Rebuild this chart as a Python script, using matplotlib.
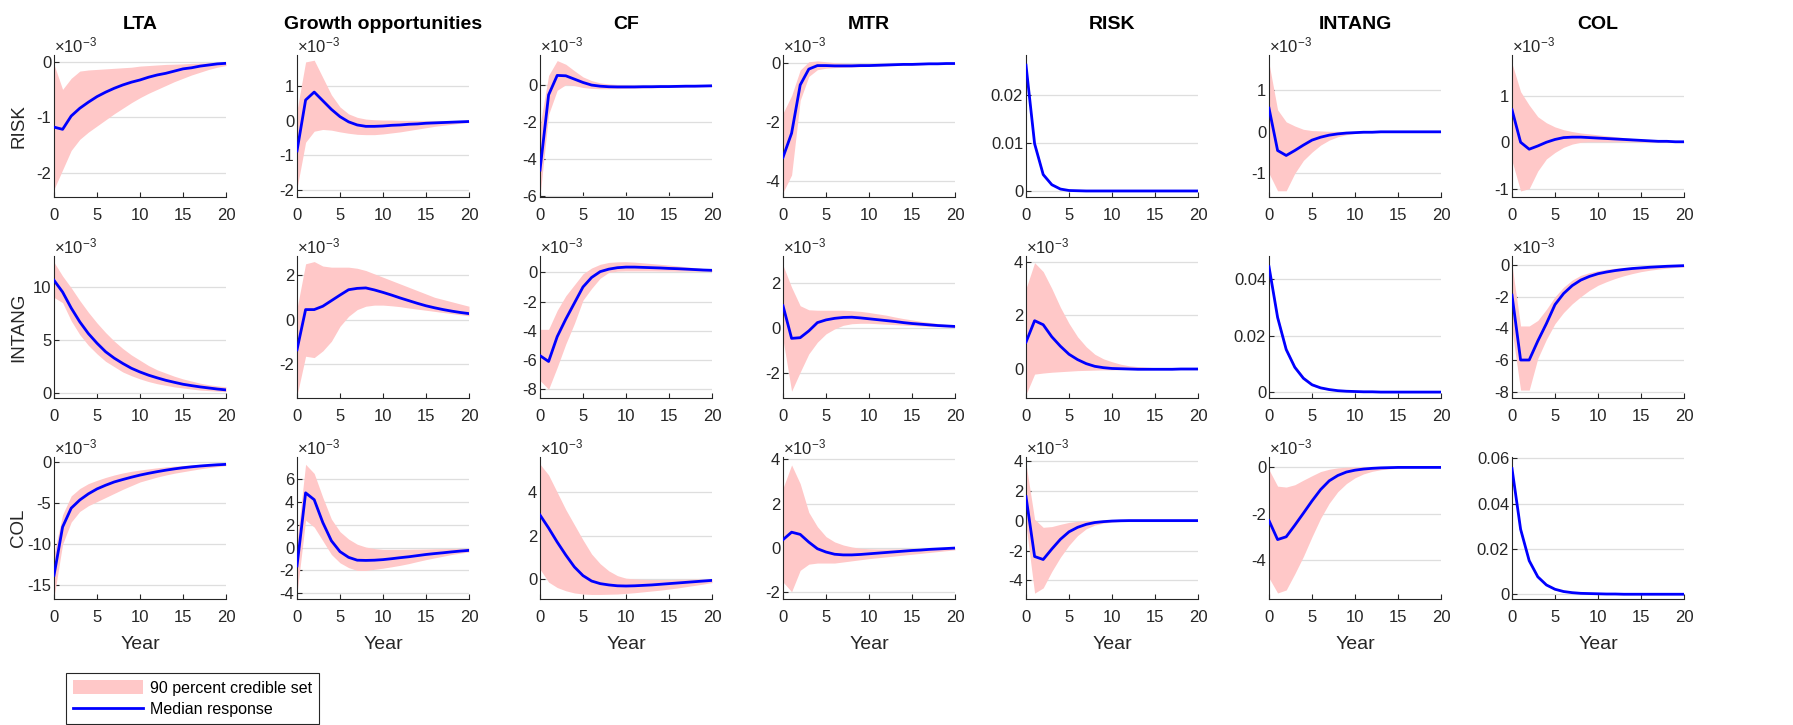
import matplotlib
matplotlib.use("Agg")
import matplotlib.pyplot as plt
from matplotlib.lines import Line2D
from matplotlib.patches import Patch
from matplotlib.ticker import FuncFormatter

plt.rcParams["font.family"] = ["Liberation Sans", "DejaVu Sans"]
plt.rcParams["mathtext.fontset"] = "custom"
plt.rcParams["mathtext.rm"] = "Liberation Sans"
plt.rcParams["axes.unicode_minus"] = False

YEARS = list(range(21))
SHOCKS = ["RISK", "INTANG", "COL"]
RESPONSES = ["LTA", "Growth opportunities", "CF", "MTR", "RISK", "INTANG", "COL"]

# --- responses to a RISK shock (off-diagonal panels in units of 1e-3) ---
R_LTA_MED = [-1.18, -1.22, -0.98, -0.84, -0.73, -0.63, -0.55, -0.48, -0.42, -0.37, -0.33,
             -0.28, -0.24, -0.21, -0.17, -0.13, -0.11, -0.08, -0.06, -0.04, -0.03]
R_LTA_HI = [-0.05, -0.5, -0.3, -0.17, -0.15, -0.14, -0.13, -0.12, -0.11, -0.1, -0.08,
            -0.07, -0.06, -0.05, -0.045, -0.04, -0.03, -0.025, -0.02, -0.015, -0.01]
R_LTA_LO = [-2.3, -1.95, -1.6, -1.4, -1.27, -1.16, -1.05, -0.94, -0.84, -0.74, -0.65,
            -0.57, -0.5, -0.43, -0.36, -0.3, -0.24, -0.19, -0.14, -0.1, -0.07]

R_GRO_MED = [-0.87, 0.6, 0.83, 0.58, 0.33, 0.12, -0.03, -0.12, -0.16, -0.16, -0.15,
             -0.13, -0.12, -0.1, -0.09, -0.07, -0.06, -0.05, -0.04, -0.03, -0.02]
R_GRO_HI = [0.3, 1.7, 1.75, 1.25, 0.75, 0.4, 0.2, 0.1, 0.05, 0.03, 0.02,
            0.02, 0.01, 0.01, 0.01, 0.0, 0.0, 0.0, 0.0, 0.0, 0.0]
R_GRO_LO = [-1.95, -0.62, -0.3, -0.25, -0.27, -0.32, -0.36, -0.39, -0.4, -0.4, -0.38,
            -0.35, -0.32, -0.28, -0.24, -0.2, -0.16, -0.13, -0.1, -0.07, -0.05]

R_CF_MED = [-4.6, -0.55, 0.5, 0.48, 0.3, 0.12, -0.02, -0.08, -0.11, -0.12, -0.12,
            -0.12, -0.11, -0.11, -0.1, -0.1, -0.09, -0.08, -0.08, -0.07, -0.06]
R_CF_HI = [-2.2, 0.5, 1.3, 1.1, 0.75, 0.42, 0.22, 0.1, 0.04, 0.01, -0.01,
           -0.02, -0.03, -0.04, -0.04, -0.05, -0.05, -0.05, -0.05, -0.04, -0.04]
R_CF_LO = [-6.0, -1.6, -0.3, 0.0, -0.05, -0.15, -0.2, -0.22, -0.22, -0.21, -0.2,
           -0.19, -0.18, -0.17, -0.16, -0.15, -0.14, -0.13, -0.12, -0.11, -0.1]

R_MTR_MED = [-3.2, -2.38, -0.74, -0.2, -0.08, -0.08, -0.09, -0.09, -0.09, -0.08, -0.08,
             -0.07, -0.06, -0.05, -0.04, -0.04, -0.03, -0.02, -0.02, -0.01, -0.01]
R_MTR_HI = [-1.7, -1.1, -0.23, 0.05, 0.08, 0.05, 0.02, 0.0, -0.01, -0.01, -0.01,
            -0.01, -0.01, -0.01, -0.01, -0.01, 0.0, 0.0, 0.0, 0.0, 0.0]
R_MTR_LO = [-4.4, -3.8, -1.26, -0.45, -0.22, -0.17, -0.15, -0.14, -0.13, -0.12, -0.11,
            -0.1, -0.09, -0.08, -0.07, -0.06, -0.05, -0.04, -0.03, -0.03, -0.02]

R_RISK_MED = [0.0261, 0.0098, 0.0034, 0.0013, 0.0004, 0.0001, 0.00005, 0.0, 0.0, 0.0, 0.0,
              0.0, 0.0, 0.0, 0.0, 0.0, 0.0, 0.0, 0.0, 0.0, 0.0]
R_RISK_HI = [0.0266, 0.0103, 0.0038, 0.0015, 0.0006, 0.0002, 0.0001, 0.00005, 0.0, 0.0, 0.0,
             0.0, 0.0, 0.0, 0.0, 0.0, 0.0, 0.0, 0.0, 0.0, 0.0]
R_RISK_LO = [0.0256, 0.0093, 0.003, 0.0011, 0.0003, 0.0001, 0.0, 0.0, 0.0, 0.0, 0.0,
             0.0, 0.0, 0.0, 0.0, 0.0, 0.0, 0.0, 0.0, 0.0, 0.0]

R_INT_MED = [0.57, -0.45, -0.57, -0.45, -0.32, -0.2, -0.13, -0.08, -0.05, -0.03, -0.02,
             -0.01, -0.01, 0.0, 0.0, 0.0, 0.0, 0.0, 0.0, 0.0, 0.0]
R_INT_HI = [1.65, 0.53, 0.24, 0.14, 0.06, 0.03, 0.02, 0.01, 0.01, 0.01, 0.01,
            0.01, 0.01, 0.01, 0.01, 0.01, 0.01, 0.01, 0.01, 0.01, 0.01]
R_INT_LO = [-1.0, -1.42, -1.42, -1.0, -0.69, -0.49, -0.32, -0.2, -0.12, -0.07, -0.04,
            -0.02, -0.01, -0.01, 0.0, 0.0, 0.0, 0.0, 0.0, 0.0, 0.0]

R_COL_MED = [0.7, 0.0, -0.15, -0.08, 0.0, 0.06, 0.1, 0.11, 0.11, 0.1, 0.09,
             0.08, 0.07, 0.06, 0.05, 0.04, 0.03, 0.02, 0.02, 0.01, 0.01]
R_COL_HI = [1.7, 1.09, 0.8, 0.55, 0.42, 0.33, 0.27, 0.23, 0.2, 0.18, 0.16,
            0.14, 0.12, 0.1, 0.08, 0.07, 0.05, 0.04, 0.03, 0.02, 0.02]
R_COL_LO = [-0.4, -1.05, -1.0, -0.62, -0.36, -0.22, -0.11, -0.04, 0.0, 0.01, 0.01,
            0.01, 0.01, 0.01, 0.01, 0.0, 0.0, 0.0, 0.0, 0.0, 0.0]

# --- responses to an INTANG shock ---
I_LTA_MED = [10.6, 9.5, 8.0, 6.7, 5.6, 4.7, 3.9, 3.3, 2.8, 2.35, 2.0,
             1.7, 1.45, 1.22, 1.03, 0.85, 0.72, 0.6, 0.5, 0.4, 0.32]
I_LTA_HI = [12.3, 11.0, 9.9, 8.7, 7.6, 6.6, 5.7, 4.9, 4.2, 3.6, 3.1,
            2.6, 2.2, 1.9, 1.6, 1.35, 1.15, 0.95, 0.8, 0.7, 0.6]
I_LTA_LO = [9.0, 8.5, 6.8, 5.5, 4.5, 3.7, 3.0, 2.5, 2.0, 1.65, 1.35,
            1.1, 0.9, 0.75, 0.6, 0.5, 0.4, 0.3, 0.25, 0.2, 0.15]

I_GRO_MED = [-1.35, 0.45, 0.45, 0.6, 0.85, 1.1, 1.34, 1.4, 1.42, 1.33, 1.22,
             1.1, 0.97, 0.85, 0.73, 0.62, 0.53, 0.45, 0.38, 0.32, 0.27]
I_GRO_HI = [0.5, 2.5, 2.6, 2.4, 2.35, 2.35, 2.35, 2.3, 2.2, 2.05, 1.9,
            1.75, 1.6, 1.45, 1.3, 1.15, 1.0, 0.9, 0.8, 0.7, 0.6]
I_GRO_LO = [-3.4, -1.64, -1.7, -1.4, -0.97, -0.3, 0.15, 0.45, 0.6, 0.65, 0.65,
            0.62, 0.58, 0.52, 0.47, 0.42, 0.37, 0.32, 0.27, 0.22, 0.17]

I_CF_MED = [-5.7, -6.1, -4.4, -3.2, -2.1, -1.0, -0.35, 0.05, 0.22, 0.32, 0.36,
            0.36, 0.34, 0.32, 0.3, 0.27, 0.25, 0.22, 0.19, 0.16, 0.14]
I_CF_HI = [-3.9, -3.9, -2.6, -1.6, -0.85, -0.1, 0.3, 0.55, 0.68, 0.72, 0.73,
           0.7, 0.65, 0.6, 0.55, 0.5, 0.44, 0.38, 0.32, 0.26, 0.2]
I_CF_LO = [-7.4, -8.0, -6.5, -4.9, -3.5, -1.9, -1.1, -0.4, 0.0, 0.08, 0.1,
           0.1, 0.1, 0.1, 0.09, 0.09, 0.08, 0.08, 0.07, 0.07, 0.06]

I_MTR_MED = [1.0, -0.45, -0.42, -0.12, 0.25, 0.37, 0.44, 0.48, 0.49, 0.46, 0.42,
             0.38, 0.34, 0.3, 0.25, 0.21, 0.18, 0.15, 0.12, 0.1, 0.08]
I_MTR_HI = [2.8, 1.82, 1.0, 0.82, 0.8, 0.8, 0.8, 0.8, 0.78, 0.75, 0.7,
            0.64, 0.58, 0.5, 0.43, 0.37, 0.31, 0.26, 0.21, 0.17, 0.13]
I_MTR_LO = [-0.5, -2.8, -1.95, -1.14, -0.62, -0.25, -0.03, 0.13, 0.2, 0.22, 0.22,
            0.2, 0.18, 0.16, 0.14, 0.12, 0.1, 0.08, 0.07, 0.06, 0.05]

I_RISK_MED = [1.0, 1.8, 1.65, 1.2, 0.85, 0.55, 0.35, 0.2, 0.1, 0.05, 0.02,
              0.01, 0.0, -0.01, -0.01, -0.01, -0.01, -0.01, 0.0, 0.0, 0.0]
I_RISK_HI = [3.0, 3.96, 3.63, 3.0, 2.3, 1.7, 1.2, 0.83, 0.55, 0.38, 0.27,
             0.18, 0.12, 0.09, 0.07, 0.05, 0.04, 0.03, 0.02, 0.02, 0.01]
I_RISK_LO = [-0.95, -0.19, -0.15, -0.12, -0.1, -0.08, -0.06, -0.05, -0.04, -0.03, -0.03,
             -0.02, -0.02, -0.02, -0.02, -0.02, -0.01, -0.01, -0.01, -0.01, -0.01]

I_INT_MED = [0.0445, 0.0265, 0.0151, 0.0088, 0.0049, 0.0026, 0.0015, 0.0009, 0.0005, 0.0003, 0.0002,
             0.0001, 0.0001, 0.0, 0.0, 0.0, 0.0, 0.0, 0.0, 0.0, 0.0]
I_INT_HI = [0.0455, 0.0275, 0.016, 0.0096, 0.0056, 0.0032, 0.0019, 0.0012, 0.0007, 0.0004, 0.0003,
            0.0002, 0.0001, 0.0001, 0.0001, 0.0, 0.0, 0.0, 0.0, 0.0, 0.0]
I_INT_LO = [0.0435, 0.0255, 0.0143, 0.0081, 0.0044, 0.0022, 0.0012, 0.0007, 0.0004, 0.0002, 0.0001,
            0.0001, 0.0, 0.0, 0.0, 0.0, 0.0, 0.0, 0.0, 0.0, 0.0]

I_COL_MED = [-1.9, -6.0, -6.0, -4.8, -3.7, -2.5, -1.8, -1.3, -0.95, -0.72, -0.55,
             -0.44, -0.35, -0.28, -0.22, -0.18, -0.14, -0.11, -0.08, -0.06, -0.04]
I_COL_HI = [0.0, -3.85, -3.85, -3.5, -2.8, -2.0, -1.4, -0.95, -0.65, -0.48, -0.36,
            -0.27, -0.2, -0.15, -0.12, -0.09, -0.07, -0.05, -0.04, -0.03, -0.02]
I_COL_LO = [-4.1, -7.9, -7.9, -5.9, -4.7, -3.7, -3.0, -2.45, -2.0, -1.6, -1.28,
            -1.05, -0.85, -0.68, -0.54, -0.42, -0.33, -0.26, -0.2, -0.15, -0.12]

# --- responses to a COL shock ---
C_LTA_MED = [-13.8, -7.9, -5.6, -4.6, -3.85, -3.25, -2.8, -2.4, -2.1, -1.82, -1.56,
             -1.34, -1.14, -0.96, -0.8, -0.66, -0.55, -0.45, -0.37, -0.3, -0.25]
C_LTA_HI = [-11.2, -6.4, -4.1, -3.2, -2.6, -2.2, -1.85, -1.55, -1.3, -1.1, -0.94,
            -0.8, -0.67, -0.56, -0.47, -0.39, -0.32, -0.26, -0.21, -0.17, -0.13]
C_LTA_LO = [-16.5, -10.0, -7.3, -6.0, -5.3, -4.8, -4.3, -3.8, -3.3, -2.85, -2.4,
            -2.1, -1.8, -1.55, -1.33, -1.15, -0.97, -0.8, -0.65, -0.52, -0.4]

C_GRO_MED = [-1.6, 4.8, 4.2, 2.2, 0.6, -0.35, -0.85, -1.1, -1.12, -1.1, -1.05,
             -0.97, -0.88, -0.8, -0.7, -0.6, -0.52, -0.45, -0.37, -0.3, -0.24]
C_GRO_HI = [0.5, 7.3, 6.5, 4.4, 2.5, 1.4, 0.75, 0.3, 0.05, -0.08, -0.15,
            -0.15, -0.15, -0.14, -0.13, -0.12, -0.1, -0.09, -0.08, -0.07, -0.05]
C_GRO_LO = [-4.0, 2.4, 1.8, 0.6, -0.6, -1.33, -1.75, -2.0, -2.0, -1.9, -1.8,
            -1.68, -1.55, -1.4, -1.22, -1.05, -0.9, -0.75, -0.6, -0.48, -0.38]

C_CF_MED = [2.95, 2.35, 1.7, 1.1, 0.55, 0.15, -0.1, -0.22, -0.28, -0.32, -0.33,
            -0.32, -0.3, -0.28, -0.25, -0.22, -0.19, -0.16, -0.13, -0.1, -0.07]
C_CF_HI = [5.3, 4.8, 4.0, 3.2, 2.5, 1.8, 1.15, 0.7, 0.37, 0.15, 0.03,
           0.0, -0.02, -0.03, -0.03, -0.03, -0.02, -0.02, -0.01, -0.01, 0.0]
C_CF_LO = [0.45, -0.15, -0.4, -0.55, -0.65, -0.7, -0.72, -0.72, -0.71, -0.7, -0.67,
           -0.64, -0.6, -0.56, -0.52, -0.47, -0.42, -0.36, -0.3, -0.24, -0.17]

C_MTR_MED = [0.36, 0.7, 0.6, 0.25, -0.05, -0.2, -0.3, -0.33, -0.33, -0.31, -0.28,
             -0.25, -0.22, -0.19, -0.16, -0.13, -0.11, -0.08, -0.06, -0.04, -0.02]
C_MTR_HI = [2.7, 3.75, 2.9, 1.6, 0.95, 0.5, 0.26, 0.12, 0.03, -0.03, -0.05,
            -0.06, -0.06, -0.06, -0.05, -0.05, -0.04, -0.03, -0.02, -0.01, 0.0]
C_MTR_LO = [-1.56, -2.0, -1.03, -0.75, -0.7, -0.7, -0.7, -0.65, -0.6, -0.55, -0.5,
            -0.46, -0.42, -0.38, -0.34, -0.3, -0.26, -0.22, -0.18, -0.14, -0.1]

C_RISK_MED = [1.6, -2.4, -2.6, -1.9, -1.25, -0.75, -0.45, -0.25, -0.13, -0.07, -0.03,
              -0.01, 0.0, 0.0, 0.0, 0.0, 0.0, 0.0, 0.0, 0.0, 0.0]
C_RISK_HI = [3.8, 0.09, -0.45, -0.4, -0.25, -0.12, -0.05, 0.0, 0.02, 0.03, 0.03,
             0.03, 0.02, 0.02, 0.01, 0.01, 0.01, 0.01, 0.01, 0.01, 0.01]
C_RISK_LO = [-0.3, -4.85, -4.5, -3.4, -2.45, -1.65, -1.0, -0.55, -0.3, -0.17, -0.1,
             -0.06, -0.04, -0.03, -0.02, -0.02, -0.01, -0.01, -0.01, -0.01, -0.01]

C_INT_MED = [-2.3, -3.12, -3.0, -2.5, -1.98, -1.45, -0.96, -0.58, -0.35, -0.2, -0.12,
             -0.07, -0.04, -0.02, -0.01, 0.0, 0.0, 0.0, 0.0, 0.0, 0.0]
C_INT_HI = [-0.1, -0.81, -0.85, -0.75, -0.55, -0.36, -0.18, -0.08, -0.02, 0.01, 0.02,
            0.03, 0.03, 0.03, 0.02, 0.02, 0.01, 0.01, 0.01, 0.01, 0.01]
C_INT_LO = [-4.78, -5.43, -5.3, -4.6, -3.85, -3.0, -2.2, -1.55, -1.05, -0.7, -0.45,
            -0.28, -0.17, -0.1, -0.06, -0.04, -0.02, -0.01, -0.01, 0.0, 0.0]

C_COL_MED = [0.0555, 0.0287, 0.0148, 0.0077, 0.0041, 0.0022, 0.0012, 0.0007, 0.0004, 0.0003, 0.0002,
             0.0001, 0.0001, 0.0, 0.0, 0.0, 0.0, 0.0, 0.0, 0.0, 0.0]
C_COL_HI = [0.0565, 0.0295, 0.0154, 0.0082, 0.0045, 0.0025, 0.0014, 0.0008, 0.0005, 0.0003, 0.0002,
            0.0002, 0.0001, 0.0001, 0.0, 0.0, 0.0, 0.0, 0.0, 0.0, 0.0]
C_COL_LO = [0.0546, 0.0279, 0.0142, 0.0072, 0.0037, 0.0019, 0.001, 0.0006, 0.0003, 0.0002, 0.0001,
            0.0001, 0.0, 0.0, 0.0, 0.0, 0.0, 0.0, 0.0, 0.0, 0.0]

# y ticks per panel, one list per shock row
RISK_YTICKS = [[-2, -1, 0], [-2, -1, 0, 1], [-6, -4, -2, 0], [-4, -2, 0],
               [0, 0.01, 0.02], [-1, 0, 1], [-1, 0, 1]]
INTANG_YTICKS = [[0, 5, 10], [-2, 0, 2], [-8, -6, -4, -2, 0], [-2, 0, 2],
                 [0, 2, 4], [0, 0.02, 0.04], [-8, -6, -4, -2, 0]]
COL_YTICKS = [[-15, -10, -5, 0], [-4, -2, 0, 2, 4, 6], [0, 2, 4], [-2, 0, 2, 4],
              [-4, -2, 0, 2, 4], [-4, -2, 0], [0, 0.02, 0.04, 0.06]]

RISK_YLIM = [(-2.44, 0.12), (-2.2, 1.9), (-6.05, 1.6), (-4.55, 0.28),
             (-0.00125, 0.0282), (-1.57, 1.85), (-1.18, 1.88)]
INTANG_YLIM = [(-0.44, 12.88), (-3.51, 2.85), (-8.6, 1.12), (-3.1, 3.21),
               (-1.08, 4.21), (-0.0021, 0.0483), (-8.4, 0.57)]
COL_YLIM = [(-16.7, 0.65), (-4.5, 7.94), (-0.93, 5.63), (-2.33, 4.11),
            (-5.24, 4.25), (-5.69, 0.45), (-0.0021, 0.0606)]

ROWS = [
    [(R_LTA_LO, R_LTA_MED, R_LTA_HI), (R_GRO_LO, R_GRO_MED, R_GRO_HI),
     (R_CF_LO, R_CF_MED, R_CF_HI), (R_MTR_LO, R_MTR_MED, R_MTR_HI),
     (R_RISK_LO, R_RISK_MED, R_RISK_HI), (R_INT_LO, R_INT_MED, R_INT_HI),
     (R_COL_LO, R_COL_MED, R_COL_HI)],
    [(I_LTA_LO, I_LTA_MED, I_LTA_HI), (I_GRO_LO, I_GRO_MED, I_GRO_HI),
     (I_CF_LO, I_CF_MED, I_CF_HI), (I_MTR_LO, I_MTR_MED, I_MTR_HI),
     (I_RISK_LO, I_RISK_MED, I_RISK_HI), (I_INT_LO, I_INT_MED, I_INT_HI),
     (I_COL_LO, I_COL_MED, I_COL_HI)],
    [(C_LTA_LO, C_LTA_MED, C_LTA_HI), (C_GRO_LO, C_GRO_MED, C_GRO_HI),
     (C_CF_LO, C_CF_MED, C_CF_HI), (C_MTR_LO, C_MTR_MED, C_MTR_HI),
     (C_RISK_LO, C_RISK_MED, C_RISK_HI), (C_INT_LO, C_INT_MED, C_INT_HI),
     (C_COL_LO, C_COL_MED, C_COL_HI)],
]
YTICKS = [RISK_YTICKS, INTANG_YTICKS, COL_YTICKS]
YLIMS = [RISK_YLIM, INTANG_YLIM, COL_YLIM]

BAND = "#ffc8c8"
MEDIAN = "#0000ff"
INK = "#262626"
GRID = "#dedede"

FIG_W, FIG_H = 1793, 725
COL_LEFT = [54, 297, 540, 783, 1026, 1269, 1512]
AX_W = 172
ROW_TOP = [55, 256, 457]
AX_H = 142

fig = plt.figure(figsize=(FIG_W / 100, FIG_H / 100), dpi=100)
fmt = FuncFormatter(lambda v, pos: f"{v:g}")

for r, shock in enumerate(SHOCKS):
    for c, resp in enumerate(RESPONSES):
        rect = [COL_LEFT[c] / FIG_W, 1 - (ROW_TOP[r] + AX_H) / FIG_H,
                AX_W / FIG_W, AX_H / FIG_H]
        ax = fig.add_axes(rect)
        lo, med, hi = ROWS[r][c]
        ax.fill_between(YEARS, lo, hi, color=BAND, lw=0, zorder=2)
        ax.plot(YEARS, med, color=MEDIAN, lw=2.0, zorder=3)

        ax.set_xlim(0, 20)
        ax.set_ylim(*YLIMS[r][c])
        ax.set_xticks([0, 5, 10, 15, 20])
        ax.set_yticks(YTICKS[r][c])
        ax.yaxis.set_major_formatter(fmt)
        ax.grid(axis="y", color=GRID, lw=0.9, zorder=0)
        ax.set_axisbelow(True)
        for side in ("top", "right"):
            ax.spines[side].set_visible(False)
        for side in ("left", "bottom"):
            ax.spines[side].set_color(INK)
            ax.spines[side].set_linewidth(0.8)
        ax.tick_params(direction="in", length=3.5, width=0.8, color=INK,
                       labelcolor=INK, labelsize=12)
        ax.tick_params(axis="x", pad=8)
        ax.tick_params(axis="y", pad=2)

        if shock != resp:
            ax.annotate(r"$\times\mathregular{10^{-3}}$", xy=(0, 1),
                        xycoords="axes fraction", xytext=(0, 2),
                        textcoords="offset points", ha="left", va="baseline",
                        fontsize=12, color=INK)
        if r == 0:
            ax.set_title(resp, fontsize=14, fontweight="bold", pad=18.5)
        if c == 0:
            fig.text(19 / FIG_W, 1 - (ROW_TOP[r] + AX_H / 2) / FIG_H, shock,
                     rotation=90, ha="center", va="center", fontsize=13.5, color=INK)
        if r == len(SHOCKS) - 1:
            ax.set_xlabel("Year", fontsize=14, color=INK, labelpad=8)

handles = [Patch(facecolor=BAND, edgecolor="none"),
           Line2D([], [], color=MEDIAN, lw=2.0)]
leg = fig.legend(handles, ["90 percent credible set", "Median response"],
                 loc="lower left", bbox_to_anchor=(66 / FIG_W, 1 / FIG_H),
                 bbox_transform=fig.transFigure, borderaxespad=0,
                 fontsize=11.5, handlelength=4.4, handleheight=1.0,
                 handletextpad=0.4, labelspacing=0.35, borderpad=0.45,
                 fancybox=False, framealpha=1)
leg.get_frame().set_edgecolor(INK)
leg.get_frame().set_linewidth(0.8)

fig.savefig("out.png", dpi=100)
